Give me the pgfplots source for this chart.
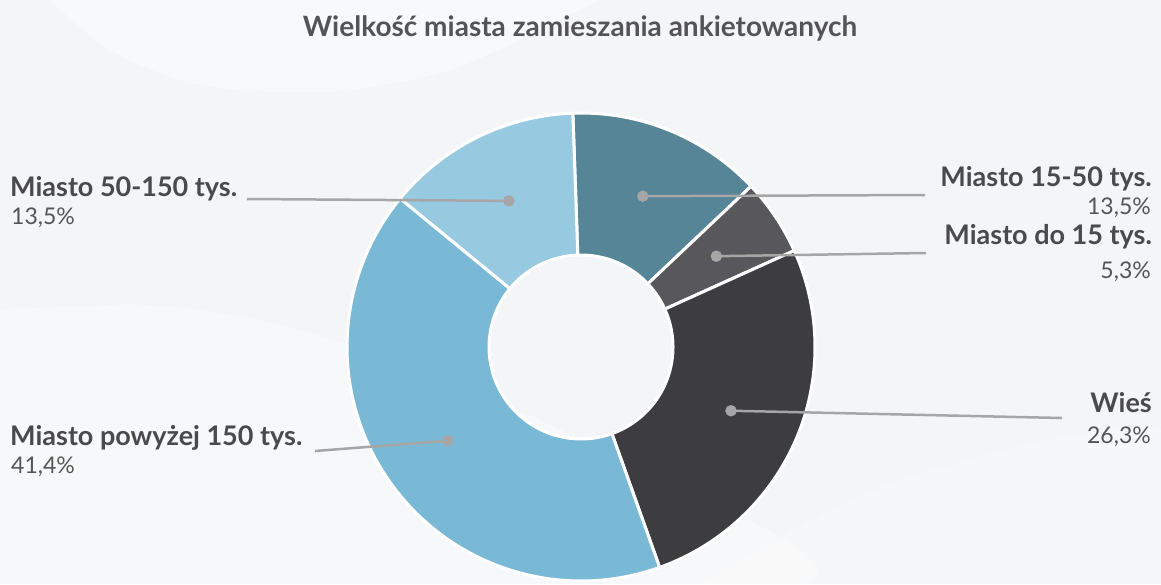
\documentclass[border=0pt]{standalone}
\usepackage{pgfplots}
\pgfplotsset{compat=1.18}
\usepackage{pgfplotstable}
\usepackage{fontspec}
\setmainfont{Lato}
\definecolor{cA}{HTML}{558597}
\definecolor{cB}{HTML}{58575B}
\definecolor{cC}{HTML}{3D3D3F}
\definecolor{cD}{HTML}{79B9D5}
\definecolor{cE}{HTML}{97C9E0}
\definecolor{bg}{HTML}{F4F5F7}
\definecolor{lead}{HTML}{A6A6A6}
\definecolor{titlec}{HTML}{545458}
\definecolor{namec}{HTML}{4A4A4E}
\definecolor{pctc}{HTML}{555555}
\pgfplotstableread{
idx value
0 13.5
1 5.3
2 26.3
3 41.4
4 13.5
}\piedata
\begin{document}
\begin{tikzpicture}
\def\cx{581}\def\cy{347}\def\R{234}\def\r{92}\def\rd{163}
\pgfplotstablegetelem{0}{value}\of\piedata\let\vA\pgfplotsretval
\pgfplotstablegetelem{1}{value}\of\piedata\let\vB\pgfplotsretval
\pgfplotstablegetelem{2}{value}\of\piedata\let\vC\pgfplotsretval
\pgfplotstablegetelem{3}{value}\of\piedata\let\vD\pgfplotsretval
\pgfplotstablegetelem{4}{value}\of\piedata\let\vE\pgfplotsretval
\pgfmathsetmacro\aA{92}
\pgfmathsetmacro\aB{\aA-3.6*\vA}
\pgfmathsetmacro\aC{\aB-3.6*\vB}
\pgfmathsetmacro\aD{\aC-3.6*\vC}
\pgfmathsetmacro\aE{\aD-3.6*\vD}
\pgfmathsetmacro\aF{\aE-3.6*\vE}
\pgfmathsetmacro\dAx{\cx+\rd*cos((\aA+\aB)/2)}\pgfmathsetmacro\dAy{\cy-\rd*sin((\aA+\aB)/2)}
\pgfmathsetmacro\dBx{\cx+\rd*cos((\aB+\aC)/2)}\pgfmathsetmacro\dBy{\cy-\rd*sin((\aB+\aC)/2)}
\pgfmathsetmacro\dCx{\cx+\rd*cos((\aC+\aD)/2)}\pgfmathsetmacro\dCy{\cy-\rd*sin((\aC+\aD)/2)}
\pgfmathsetmacro\dDx{\cx+\rd*cos((\aD+\aE)/2)}\pgfmathsetmacro\dDy{\cy-\rd*sin((\aD+\aE)/2)}
\pgfmathsetmacro\dEx{\cx+\rd*cos((\aE+\aF)/2)}\pgfmathsetmacro\dEy{\cy-\rd*sin((\aE+\aF)/2)}
\begin{axis}[scale only axis, width=1161pt, height=584pt,
  xmin=0, xmax=1161, ymin=0, ymax=584, y dir=reverse,
  hide axis, clip=false]
\coordinate (BL) at (0,584);
\coordinate (TR) at (1161,0);
\fill[bg] (0,0) rectangle (1161,584);
\fill[white, opacity=0.45] plot[smooth] coordinates {(50,0) (110,50) (200,85) (330,92) (450,70) (560,20) (600,0)} -- cycle;
\fill[white, opacity=0.3] plot[smooth] coordinates {(0,310) (150,305) (280,325) (420,370) (600,450) (800,584) (0,584)} -- cycle;
\fill[white, opacity=0.25] plot[smooth] coordinates {(700,584) (900,480) (1161,430) (1161,584)} -- cycle;
\foreach \s/\e/\c in {\aB/\aA/cA, \aC/\aB/cB, \aD/\aC/cC, \aE/\aD/cD, \aF/\aE/cE}{
  \edef\tmp{\noexpand\filldraw[fill=\c, draw=white, line width=3pt, line join=round]
    plot[domain=\s:\e, samples=80, variable=\noexpand\t] ({\cx+\R*cos(\noexpand\t)},{\cy-\R*sin(\noexpand\t)})
    -- plot[domain=\e:\s, samples=80, variable=\noexpand\t] ({\cx+\r*cos(\noexpand\t)},{\cy-\r*sin(\noexpand\t)}) -- cycle;}
  \tmp
}
\edef\tmp{\noexpand\addplot[lead, line width=2.5pt, no marks] coordinates {(\dAx,\dAy) (925,195)};
\noexpand\addplot[lead, line width=2.5pt, no marks] coordinates {(\dBx,\dBy) (926,253)};
\noexpand\addplot[lead, line width=2.5pt, no marks] coordinates {(\dCx,\dCy) (1062,418)};
\noexpand\addplot[lead, line width=2.5pt, no marks] coordinates {(\dDx,\dDy) (315,451)};
\noexpand\addplot[lead, line width=2.5pt, no marks] coordinates {(\dEx,\dEy) (247,199)};
\noexpand\addplot[only marks, mark=*, mark size=5.5pt, lead, mark options={draw=lead, fill=lead}] coordinates {(\dAx,\dAy) (\dBx,\dBy) (\dCx,\dCy) (\dDx,\dDy) (\dEx,\dEy)};}
\tmp
\node[anchor=base, inner sep=0, text=titlec, font=\fontsize{28}{32}\selectfont\bfseries] at (580,36) {Wielkość miasta zamieszania ankietowanych};
\tikzset{nm/.style={inner sep=0, text=namec, font=\fontsize{27}{32}\selectfont\bfseries},
         pc/.style={inner sep=0, text=pctc, font=\fontsize{23}{27}\selectfont}}
\node[nm, anchor=base west] at (10,196) {Miasto 50-150 tys.};
\node[pc, anchor=base west] at (11,224) {13,5\%};
\node[nm, anchor=base west] at (10,445) {Miasto powyżej 150 tys.};
\node[pc, anchor=base west] at (11,473) {41,4\%};
\node[nm, anchor=base east] at (1152,186) {Miasto 15-50 tys.};
\node[pc, anchor=base east] at (1151,214) {13,5\%};
\node[nm, anchor=base east] at (1152,244) {Miasto do 15 tys.};
\node[pc, anchor=base east] at (1151,278) {5,3\%};
\node[nm, anchor=base east] at (1152,412) {Wieś};
\node[pc, anchor=base east] at (1151,443) {26,3\%};
\end{axis}
\pgfresetboundingbox
\path[use as bounding box] (BL) rectangle (TR);
\end{tikzpicture}
\end{document}
